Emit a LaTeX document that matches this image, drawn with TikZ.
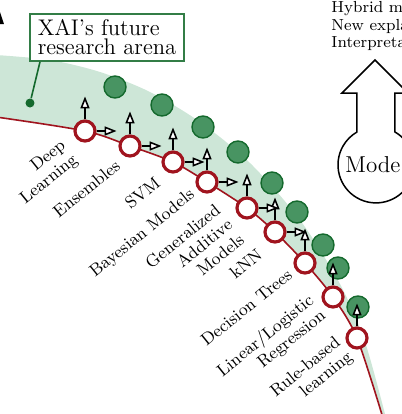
\documentclass[tikz,border=0pt]{standalone}
\usetikzlibrary{arrows.meta,backgrounds}
\definecolor{modelred}{RGB}{160,20,30}
\definecolor{arena}{RGB}{205,230,215}
\definecolor{dotgreen}{RGB}{72,148,98}
\definecolor{darkgreen}{RGB}{20,105,45}
\definecolor{boxgreen}{RGB}{50,125,70}
\begin{document}
\begin{tikzpicture}[x=0.5pt, y=0.5pt,
    model/.style={circle, draw=modelred, line width=1.6pt, fill=white, minimum size=10pt, inner sep=0pt},
    future/.style={circle, draw=darkgreen, line width=0.7pt, fill=dotgreen, minimum size=11pt, inner sep=0pt},
    lbl/.style={font=\fontsize{8.6}{9.5}\selectfont, rotate=39, anchor=east, align=right, inner sep=0pt},
    move/.style={-{Triangle[fill=white, length=6pt, width=4.5pt]}, line width=0.8pt},
    every node/.style={transform shape}
]
\useasboundingbox (0,0) rectangle (402,414);

\node[model] (m1) at (85,283) {};
\node[model] (m2) at (130,268) {};
\node[model] (m3) at (173,252) {};
\node[model] (m4) at (207,232) {};
\node[model] (m5) at (247,206) {};
\node[model] (m6) at (275,182) {};
\node[model] (m7) at (305,151) {};
\node[model] (m8) at (333,117) {};
\node[model] (m9) at (357,76) {};
\coordinate (lt) at (-4,297);
\coordinate (rb) at (383,-4);

\begin{scope}[on background layer]
\fill[arena] plot[smooth] coordinates {(-4,359) (50,354) (100,342) (150,322) (200,292) (250,251) (300,194) (340,130) (365,72) (386,-4)}
    -- plot[smooth] coordinates {(rb) (m9.center) (m8.center) (m7.center) (m6.center) (m5.center) (m4.center) (m3.center) (m2.center) (m1.center) (lt)} -- cycle;
\draw[modelred, line width=0.8pt] plot[smooth] coordinates {(lt) (m1.center) (m2.center) (m3.center) (m4.center) (m5.center) (m6.center) (m7.center) (m8.center) (m9.center) (rb)};
\end{scope}

\node[future] (f1) at (115,327) {};
\node[future] (f2) at (162,309) {};
\node[future] (f3) at (203,287) {};
\node[future] (f4) at (238,262) {};
\node[future] (f5) at (272,231) {};
\node[future] (f6) at (297,202) {};
\node[future] (f7) at (323,169) {};
\node[future] (f8) at (338,146) {};
\node[future] (f9) at (358,107) {};

% moves of each model
\foreach \i in {1,...,9} {
  \path (m\i.north) ++(0,23) coordinate (u\i);
  \draw[move] (m\i.north) -- (u\i);
}
\foreach \i in {1,...,6} {
  \path (m\i.east) ++(20,0) coordinate (r\i);
  \draw[move] (m\i.east) -- (r\i);
}

\node[lbl] (l1) at ([shift={(-15,-20)}]m1.center) {Deep\\Learning};
\node[lbl] (l2) at ([shift={(-12,-17)}]m2.center) {Ensembles};
\node[lbl] (l3) at ([shift={(-15,-18)}]m3.center) {SVM};
\node[lbl] (l4) at ([shift={(-14,-11)}]m4.center) {Bayesian Models};
\node[lbl] (l5) at ([shift={(-17,-14)}]m5.center) {Generalized\\Additive\\Models};
\node[lbl] (l6) at ([shift={(-15,-20)}]m6.center) {kNN};
\node[lbl] (l7) at ([shift={(-15,-9)}]m7.center) {Decision Trees};
\node[lbl] (l8) at ([shift={(-15,-9)}]m8.center) {Linear/Logistic\\Regression};
\node[lbl] (l9) at ([shift={(-12,-10)}]m9.center) {Rule-based\\learning};

\node[draw=boxgreen, line width=0.8pt, fill=white, anchor=north west, align=left,
      inner xsep=4pt, inner ysep=3pt, font=\fontsize{11.3}{9.4}\selectfont] (box) at (29,401) {XAI's future\\research arena};
\node[circle, fill=darkgreen, minimum size=4.5pt, inner sep=0pt] (spot) at (30,311) {};
\draw[darkgreen, line width=0.8pt] (spot) -- (box.200);

% interpretability axis tip
\fill (-4,390) -- (0,402) -- (4,390) -- cycle;

\draw[fill=white, line width=0.75pt] (357,321) -- (342,321) -- (375,354) -- (408,321) -- (395,321) -- (395,282)
    arc[start angle=60, end angle=-240, radius=38] -- cycle;
\node[anchor=west, inner sep=0pt, font=\fontsize{11.5}{12}\selectfont] (model) at (345,249) {Mode};
\node[anchor=north west, align=left, inner sep=0pt, font=\fontsize{8}{8.75}\selectfont] (goals) at (331,413) {Hybrid m\\New expla\\Interpreta};
\end{tikzpicture}
\end{document}
